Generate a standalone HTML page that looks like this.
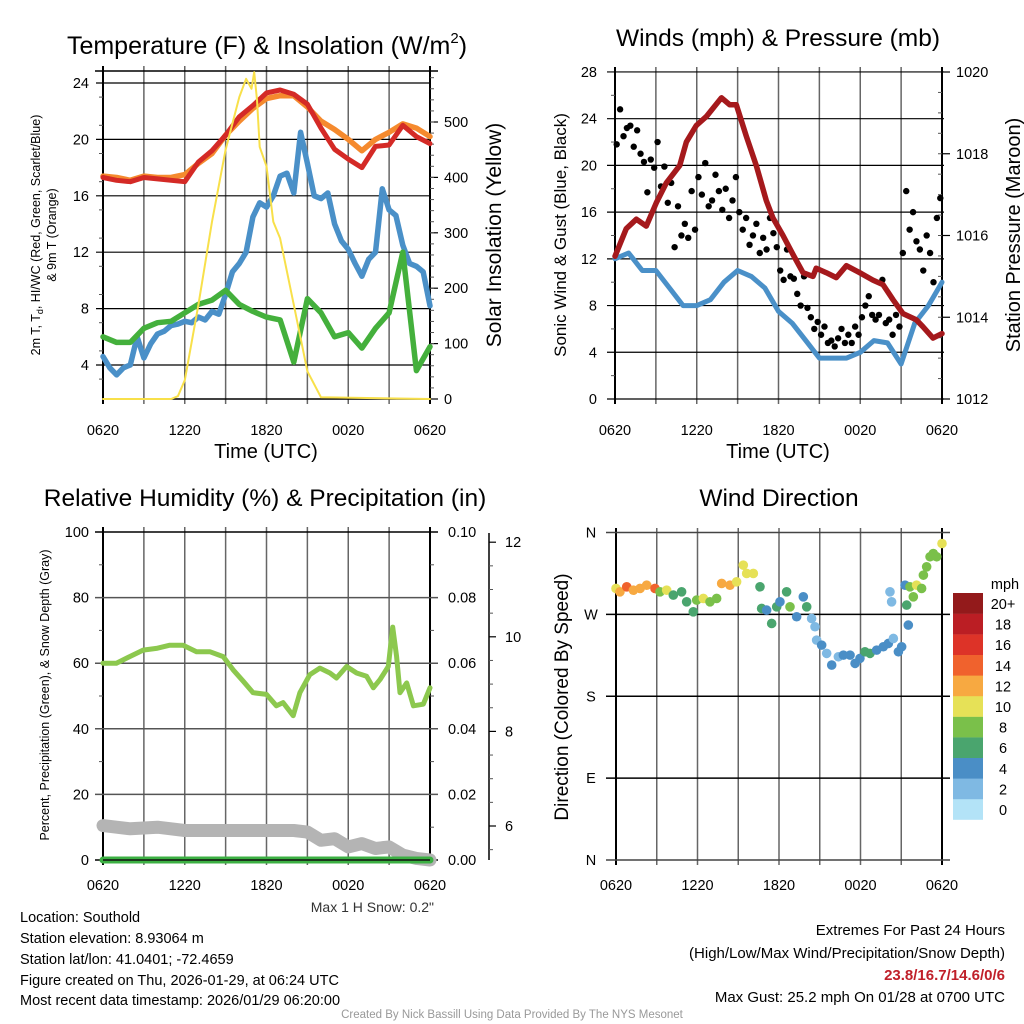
<!DOCTYPE html>
<html><head><meta charset="utf-8"><style>
html,body{margin:0;padding:0;background:#fff;}
svg{display:block;font-family:"Liberation Sans",sans-serif;}
</style></head><body>
<svg id="c" width="1024" height="1024" viewBox="0 0 1024 1024" xmlns="http://www.w3.org/2000/svg">
<rect width="1024" height="1024" fill="#fff"/>
<g id="g"></g>
<text x="267" y="54" font-size="25" text-anchor="middle">Temperature (F) &amp; Insolation (W/m<tspan font-size="15" dy="-11">2</tspan><tspan dy="11">)</tspan></text>
<text x="778" y="46" font-size="24.5" text-anchor="middle">Winds (mph) &amp; Pressure (mb)</text>
<text x="265" y="506" font-size="24.5" text-anchor="middle">Relative Humidity (%) &amp; Precipitation (in)</text>
<text x="779" y="506" font-size="24.5" text-anchor="middle">Wind Direction</text>
<text x="266" y="458" font-size="20" text-anchor="middle">Time (UTC)</text>
<text x="778" y="458" font-size="20" text-anchor="middle">Time (UTC)</text>
<text transform="translate(40,235) rotate(-90)" font-size="12.5" text-anchor="middle">2m T, T<tspan font-size="9" dy="3">d</tspan><tspan dy="-3">, HI/WC (Red, Green, Scarlet/Blue)</tspan></text>
<text transform="translate(56,235) rotate(-90)" font-size="12.5" text-anchor="middle">&amp; 9m T (Orange)</text>
<text transform="translate(501,235) rotate(-90)" font-size="21" text-anchor="middle">Solar Insolation (Yellow)</text>
<text transform="translate(566,235) rotate(-90)" font-size="17" text-anchor="middle">Sonic Wind &amp; Gust (Blue, Black)</text>
<text transform="translate(1020,235) rotate(-90)" font-size="20" text-anchor="middle">Station Pressure (Maroon)</text>
<text transform="translate(49,695) rotate(-90)" font-size="12.5" text-anchor="middle">Percent, Precipitation (Green), &amp; Snow Depth (Gray)</text>
<text transform="translate(568,697) rotate(-90)" font-size="19" text-anchor="middle">Direction (Colored By Speed)</text>
<text x="434" y="912" font-size="14" text-anchor="end" fill="#333">Max 1 H Snow: 0.2"</text>
<g font-size="14.5">
<text x="20" y="922">Location: Southold</text>
<text x="20" y="943">Station elevation: 8.93064 m</text>
<text x="20" y="964">Station lat/lon: 41.0401; -72.4659</text>
<text x="20" y="985">Figure created on Thu, 2026-01-29, at 06:24 UTC</text>
<text x="20" y="1005">Most recent data timestamp: 2026/01/29 06:20:00</text>
</g>
<g font-size="15" text-anchor="end">
<text x="1005" y="935">Extremes For Past 24 Hours</text>
<text x="1005" y="958">(High/Low/Max Wind/Precipitation/Snow Depth)</text>
<text x="1005" y="980" fill="#c0202a" font-weight="bold">23.8/16.7/14.6/0/6</text>
<text x="1005" y="1002">Max Gust: 25.2 mph On 01/28 at 0700 UTC</text>
</g>
<text x="512" y="1018" font-size="11.5" text-anchor="middle" fill="#999">Created By Nick Bassill Using Data Provided By The NYS Mesonet</text>
</svg>
<script>
// ---- Temperature panel data (hours since 0620 UTC) ----
const hourly = [0,1,2,3,4,5,6,7,8,9,10,11,12,13,14,15,16,17,18,19,20,21,22,23,24];
const tempRed = [17.3,17.1,17.0,17.3,17.2,17.1,17.0,18.4,19.2,20.3,21.6,22.4,23.3,23.5,23.2,22.5,20.8,19.3,18.6,18.0,19.5,19.6,21.0,20.2,19.7];
const temp9m = [17.4,17.3,17.1,17.4,17.3,17.3,17.5,18.3,19.0,20.3,21.3,22.2,22.9,23.1,23.1,22.3,21.3,20.7,20.0,19.2,20.0,20.5,21.1,20.8,20.2];
const windChill = [6.0,5.6,5.6,6.6,7.0,7.1,7.7,8.3,8.6,9.3,8.3,7.8,7.4,7.2,4.2,8.7,7.7,6.0,6.3,5.2,6.6,7.7,12.0,3.6,5.3];
const halfHourly = [0,0.5,1,1.5,2,2.5,3,3.5,4,4.5,5,5.5,6,6.5,7,7.5,8,8.5,9,9.5,10,10.5,11,11.5,12,12.5,13,13.5,14,14.5,15,15.5,16,16.5,17,17.5,18,18.5,19,19.5,20,20.5,21,21.5,22,22.5,23,23.5,24];
const dewPoint = [4.6,3.8,3.3,3.8,4.0,6.0,4.5,5.5,6.2,6.4,6.8,6.9,7.1,7.0,7.4,7.2,7.8,7.6,9.0,10.6,11.2,12.0,14.5,15.5,15.2,16.0,17.4,17.6,16.2,20.5,18.3,16.0,15.8,16.2,14.0,12.8,12.2,11.2,10.3,11.5,12.0,16.5,15.0,14.6,12.5,11.2,11.0,10.6,8.2];
const solarTimes = [0,5,5.5,6,7,8,9,10,10.5,10.9,11.1,11.3,11.5,12,12.5,13,14,15,16,24];
const solarVals = [0,0,5,34,170,320,450,545,578,560,590,540,455,420,320,290,170,50,3,0];
const tempTicks = [4,8,12,16,20,24];
const solarTicks = [0,100,200,300,400,500];
const timeLabels = ['0620','1220','1820','0020','0620'];
// ---- Wind panel data ----
const windSpeed = [12,12.5,11,11,9.5,8,8,8.5,10,11,10.5,9.5,7.5,6.5,5,3.5,3.5,3.5,4,5,4.8,3,6.5,8,10];
const pressTimes = [0,0.83,1.57,2.3,3.03,3.77,4.75,5.24,5.97,6.7,7.81,8.42,8.9,9.64,10.37,11.1,11.59,12.33,13.06,13.8,14.53,14.77,15.51,16.24,16.98,17.96,18.93,19.67,20.4,21.14,22.11,22.6,23.34,24];
const pressVals = [1015.49,1016.17,1016.4,1016.23,1016.8,1017.29,1017.71,1018.29,1018.69,1018.91,1019.37,1019.2,1019.2,1018.43,1017.71,1016.86,1016.43,1016.0,1015.54,1015.09,1015.0,1015.2,1015.09,1014.97,1015.26,1015.09,1014.91,1014.8,1014.43,1014.09,1013.94,1013.77,1013.49,1013.6];
const gusts = [21.8,24.8,22.5,23.2, 23.4,21.6,23.0,21.0, 20.3,17.7,20.5,19.8, 22.0,18.2,19.9,16.8, 18.5,13.0,16.5,14.0, 15.0,13.8,17.8,14.5, 19.0,17.5,20.2,16.5, 17.0,19.2,17.8,16.2, 18.0,15.5,17.0,19.0, 16.0,14.5,15.5,13.2, 14.0,15.0,12.5,13.8, 12.8,15.5,14.2,13.0, 11.0,10.2,12.8,10.5, 10.3,9.0,8.0,10.5, 7.8,7.0,6.0,6.6, 5.5,6.2,4.8,5.0, 4.5,5.2,6.0,4.8, 5.5,4.8,6.2,5.5, 7.0,8.0,8.8,7.2, 6.8,7.2,10.2,6.5, 6.8,5.5,7.2,6.2, 12.5,17.8,14.5,16.0, 13.5,12.8,11.0,14.0, 12.5,10.0,15.5,17.2];
const windTicks = [0,4,8,12,16,20,24,28];
const pressTicks = [1012,1014,1016,1018,1020];
// ---- RH panel data ----
const rhTimes = [0,0.98,1.96,2.94,3.92,4.9,5.88,6.86,7.84,8.82,9.55,10.29,11.02,12.0,12.73,13.22,13.96,14.45,15.18,15.92,16.65,17.14,17.88,18.61,19.35,19.84,20.33,20.94,21.26,21.55,21.8,22.29,22.78,23.51,24];
const rhVals = [60,60,62,64,64.5,65.5,65.5,63.5,63.5,62,58,54.5,51,50.5,47,48,44,51,56.5,58.5,57,55.5,59,57,56,52.5,55,59,71,62,51,54,47,47.5,52.5];
const snowTimes = [0,1,2,4,6,8,10,12,14,15,16,17,18,19,20,21,22,23,24];
const snowVals = [10.5,10,9.5,10,9,9,9,9,9,8.5,6,6.5,4,5,3.5,4,1.5,0.5,0];
const precipTimes = [0,24];
const precipVals = [0,0];
const rhTicks = [0,20,40,60,80,100];
const precipTicks = ['0.00','0.02','0.04','0.06','0.08','0.10'];
const snowAxisTicks = [6,8,10,12];
// ---- Wind direction data ----
const dirTimes = [0,0.29,0.79,1.28,1.77,2.26,2.87,3.24,3.73,4.22,4.83,5.2,5.69,5.94,6.43,6.92,7.41,7.78,8.39,8.88,9.37,9.62,10.11,10.6,10.72,11.09,11.46,11.83,12.07,12.56,12.81,13.3,13.79,14.04,14.4,14.65,14.77,15.14,15.51,15.88,16.37,16.74,17.23,17.6,17.96,18.33,18.7,19.19,19.68,20.05,20.17,20.29,20.42,20.79,21.03,21.28,21.4,21.52,21.64,21.89,22.13,22.5,22.63,22.87,23.12,23.36,23.61,24];
const dirVals = [298.5,294.8,300.3,296.6,298.5,302.1,298.5,294.8,296.6,291.2,294.8,283.8,272.8,285.7,287.5,283.8,287.5,304,302.1,305.8,324.1,315,315,300.3,276.5,274.7,260,278.3,283.8,294.8,278.3,267.4,289.3,278.3,265.5,256.4,241.7,236.2,227.1,214.3,223.4,225.2,225.2,216.1,221.6,228.9,227.1,230.7,234.4,238,294.8,283.8,243.5,228.9,234.4,302.1,280.2,258.2,300.3,289.3,302.1,298.5,313.1,322.3,333.3,336.9,333.3,347.9];
const dirSpeeds = [11,13,14,13,12,12,14,8,10,7,6,7,7,8,10,9,8,12,12,10,10,10,10,7,7,4,6,7,4,6,8,4,4,7,2,2,2,4,3,4,2,4,4,4,4,6,6,4,4,4,2,2,2,4,4,4,6,4,8,8,10,8,8,8,8,8,8,10];
const speedBins = ['0','2','4','6','8','10','12','14','16','18','20+'];
const speedColors = ['#b3e3f7','#7fb9e3','#4a8ec6','#4aa56e','#7ac04a','#e6e157','#f7a941','#f0622d','#dd3328','#bb1e24','#931a1b'];

const NS='http://www.w3.org/2000/svg';
const G=document.getElementById('g');
function mk(tag,at,parent){const e=document.createElementNS(NS,tag);for(const k in at)e.setAttribute(k,at[k]);(parent||G).appendChild(e);return e;}
function txt(x,y,s,size,anchor){const t=mk('text',{x:x,y:y,'font-size':size,'text-anchor':anchor});t.textContent=s;return t;}
function linePts(xs,ys,fx,fy){return xs.map((t,i)=>fx(t).toFixed(1)+','+fy(ys[i]).toFixed(1)).join(' ');}

function timeAxis(x0,x1,yTop,yBot,labY){
  const fx=t=>x0+(x1-x0)*t/24;
  for(let k=0;k<=8;k++){const x=fx(k*3);
    const l=mk('line',{x1:x,y1:yTop-5,x2:x,y2:yBot+5,stroke:(k==0||k==8)?'#000':'#666','stroke-width':(k==0||k==8)?2:1.5});
    
    }
  timeLabels.forEach((s,i)=>{const t=txt(fx(i*6),labY,s,14.5,'middle');
    
    });
  return fx;
}

// ===== Panel 1 =====
(function(){
  const x0=103,x1=430,yT=71,yB=399;
  const fy=v=>83+(24-v)*14.1, fs=w=>399-w*0.554;
  const fx=timeAxis(x0,x1,yT,yB,435);
  mk('line',{x1:x0-8,y1:yT,x2:x1+8,y2:yT,stroke:'#000','stroke-width':1.5});
  mk('line',{x1:x0,y1:yB,x2:x1,y2:yB,stroke:'#000','stroke-width':1.5});
  tempTicks.forEach(v=>{const y=fy(v);
    const l=mk('line',{x1:x0-7,y1:y,x2:x1,y2:y,stroke:'#000','stroke-width':1.2});
    
    
    const t=txt(x0-14,y+5,String(v),14.5,'end');
    
    });
  for(let v=3;v<=25;v+=2){if(fy(v)<yB&&fy(v)>yT)mk('line',{x1:x0-4,y1:fy(v),x2:x0,y2:fy(v),stroke:'#555'});}
  solarTicks.forEach(w=>{const y=fs(w);mk('line',{x1:x1,y1:y,x2:x1+8,y2:y,stroke:'#000','stroke-width':1.2});
    const t=txt(x1+14,y+5,String(w),14.5,'start');
    
    });
  for(let w=20;w<590;w+=20){mk('line',{x1:x1,y1:fs(w),x2:x1+4,y2:fs(w),stroke:'#555'});}
  const s={fill:'none','stroke-linejoin':'round','stroke-linecap':'round'};
  let p;
  p=mk('polyline',Object.assign({points:linePts(halfHourly,dewPoint,fx,fy),stroke:'#4a90c8','stroke-width':5.5},s));
  
  p=mk('polyline',Object.assign({points:linePts(hourly,windChill,fx,fy),stroke:'#44b03c','stroke-width':5.5},s));
  
  p=mk('polyline',Object.assign({points:linePts(hourly,temp9m,fx,fy),stroke:'#f58a2e','stroke-width':5.5},s));
  
  p=mk('polyline',Object.assign({points:linePts(hourly,tempRed,fx,fy),stroke:'#d42a26','stroke-width':5},s));
  
  p=mk('polyline',Object.assign({points:linePts(solarTimes,solarVals,fx,fs),stroke:'#f8e04a','stroke-width':2},s));
  
})();

// ===== Panel 2 =====
(function(){
  const x0=615,x1=942,yT=72,yB=399;
  const fy=v=>399-v*11.68, fp=p=>399-(p-1012)*40.875;
  const fx=timeAxis(x0,x1,yT,yB,435);
  windTicks.forEach(v=>{const y=fy(v);
    const l=mk('line',{x1:x0-8,y1:y,x2:x1+2,y2:y,stroke:'#000','stroke-width':1.2});
    
    
    const t=txt(x0-18,y+5,String(v),14.5,'end');
    
    });
  for(let v=2;v<28;v+=4)mk('line',{x1:x0-4,y1:fy(v),x2:x0,y2:fy(v),stroke:'#555'});
  pressTicks.forEach(p=>{const y=fp(p);mk('line',{x1:x1,y1:y,x2:x1+8,y2:y,stroke:'#000','stroke-width':1.2});
    const t=txt(x1+14,y+5,String(p),14.5,'start');
    
    });
  for(let p=1012.5;p<1020;p+=0.5)mk('line',{x1:x1-4,y1:fp(p),x2:x1,y2:fp(p),stroke:'#555'});
  const s={fill:'none','stroke-linejoin':'round','stroke-linecap':'round'};
  let p=mk('polyline',Object.assign({points:linePts(hourly,windSpeed,fx,fy),stroke:'#4a90c8','stroke-width':5},s));
  
  gusts.forEach((g,i)=>{const c=mk('circle',{cx:fx((i+0.5)*24/gusts.length),cy:fy(g),r:3.2,fill:'#000'});
    
    });
  p=mk('polyline',Object.assign({points:linePts(pressTimes,pressVals,fx,fp),stroke:'#a5191c','stroke-width':5.5},s));
  
})();

// ===== Panel 3 =====
(function(){
  const x0=103,x1=430,yT=532,yB=860;
  const fy=v=>860-v*3.28, fsn=v=>826-(v-6)*47.3;
  const fx=timeAxis(x0,x1,yT,yB,890);
  rhTicks.forEach((v,i)=>{const y=fy(v);
    const l=mk('line',{x1:x0-8,y1:y,x2:x1+8,y2:y,stroke:(v==0||v==100)?'#000':'#555','stroke-width':1.5});
    
    
    let t=txt(x0-14,y+5,String(v),14.5,'end');
    
    
    t=txt(x1+18,y+5,precipTicks[i],14.5,'start');
    
    });
  for(let v=10;v<100;v+=20){mk('line',{x1:x0-4,y1:fy(v),x2:x0,y2:fy(v),stroke:'#555'});mk('line',{x1:x1,y1:fy(v),x2:x1+4,y2:fy(v),stroke:'#555'});}
  mk('line',{x1:489,y1:533,x2:489,y2:860,stroke:'#000','stroke-width':1.5});
  snowAxisTicks.forEach(v=>{const y=fsn(v);mk('line',{x1:489,y1:y,x2:496,y2:y,stroke:'#000','stroke-width':1.2});
    const t=txt(505,y+5,String(v),14.5,'start');
    
    });
  for(let v=5.5;v<12.5;v+=0.5)if(v%2)mk('line',{x1:489,y1:fsn(v),x2:493,y2:fsn(v),stroke:'#555'});
  const s={fill:'none','stroke-linejoin':'round','stroke-linecap':'round'};
  let p=mk('polyline',Object.assign({points:linePts(snowTimes,snowVals,fx,fy),stroke:'#b4b4b4','stroke-width':13},s));
  
  p=mk('polyline',Object.assign({points:linePts(precipTimes,precipVals,fx,fy),stroke:'#3cb043','stroke-width':7},s));
  
  mk('line',{x1:x0,y1:860,x2:x1,y2:860,stroke:'#111','stroke-width':1.5});
  p=mk('polyline',Object.assign({points:linePts(rhTimes,rhVals,fx,fy),stroke:'#8cc84e','stroke-width':5},s));
  
})();

// ===== Panel 4 =====
(function(){
  const x0=616,x1=942;
  const fy=d=>860-d/360*327.5;
  const fx=timeAxis(x0,x1,533,860,890);
  ['N','E','S','W','N'].forEach((s,i)=>{const y=fy(i*90);
    const l=mk('line',{x1:x0-10,y1:y,x2:x1+8,y2:y,stroke:(i==0||i==4)?'#444':'#000','stroke-width':1.4});
    
    
    const t=txt(x0-25,y+5,s,14.5,'middle');
    
    });
  dirTimes.forEach((t,i)=>{const b=Math.min(10,Math.floor(dirSpeeds[i]/2));
    const c=mk('circle',{cx:fx(t),cy:fy(dirVals[i]),r:4.8,fill:speedColors[b]});
    
    });
  const lt=txt(1005,589,'mph',14.5,'middle');
  
  
  speedBins.forEach((s,i)=>{const y=799-i*20.6;
    const r=mk('rect',{x:953,y:y,width:30,height:20.8,fill:speedColors[i]});
    
    
    const t=txt(1003,y+16,s,14.5,'middle');
    
    });
})();
</script>
</body></html>
